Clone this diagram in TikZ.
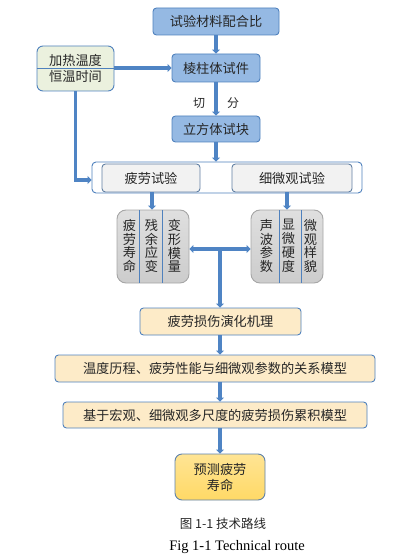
\documentclass[tikz,border=0pt]{standalone}
\usepackage{fontspec}
\setmainfont{Liberation Serif}
\newfontfamily\cjk{Noto Sans CJK SC}
\usetikzlibrary{arrows.meta,positioning}
\definecolor{bdr}{HTML}{4F81BD}
\definecolor{arr}{HTML}{4F84C4}
\definecolor{bluefill}{HTML}{95B9E3}
\definecolor{greenfill}{HTML}{EBF1DE}
\definecolor{lgray}{HTML}{F2F2F2}
\definecolor{yfill}{HTML}{FDEBC8}
\definecolor{gold}{HTML}{FFD966}
\tikzset{
  box/.style={draw=bdr, line width=0.9pt, rounded corners=3.5pt, inner sep=0pt,
    font=\cjk\fontsize{13.2}{16}\selectfont, text=black!85},
  bluebox/.style={box, fill=bluefill},
  greenbox/.style={box, fill=greenfill, rounded corners=6pt},
  graybox/.style={box, draw=bdr!60!gray, fill=lgray},
  ybox/.style={box, fill=yfill},
  groupbox/.style={draw=gray!70, line width=0.9pt, rounded corners=9pt, top color=gray!25, bottom color=gray!40, inner sep=0pt},
  coltext/.style={font=\cjk\fontsize{13.2}{13.8}\selectfont, align=center, text=black!85, inner sep=0pt},
  arrowline/.style={draw=arr, line width=3.2pt, -{Triangle[length=4pt,width=8pt]}},
  dblline/.style={draw=arr, line width=3.2pt, {Triangle[length=4pt,width=8pt]}-{Triangle[length=4pt,width=8pt]}},
  lbl/.style={font=\cjk\fontsize{12}{14}\selectfont, text=black!85}
}
\begin{document}
\begin{tikzpicture}[x=1pt,y=-1pt]
\useasboundingbox (0,0) rectangle (407,556);
% top chain
\node[bluebox, minimum width=126pt, minimum height=27pt] (mat) at (216,21.5) {试验材料配合比};
\node[greenbox, minimum width=77pt, minimum height=45pt, align=center] (heat) at (75.5,68.5) {加热温度\\[0pt]恒温时间};
\draw[draw=bdr, line width=0.9pt] (heat.west) -- (heat.east);
\node[bluebox, minimum width=88pt, minimum height=28pt] (pris) at (216,68) {棱柱体试件};
\node[bluebox, minimum width=88pt, minimum height=26pt] (cube) at (216,129) {立方体试块};
\node[lbl] (cut1) at (199,103) {切};
\node[lbl] (cut2) at (233,103) {分};
% container
\node[draw=bdr, line width=0.9pt, rounded corners=4pt, fill=white, minimum width=270pt, minimum height=31pt, inner sep=0pt] (outer) at (227,177.5) {};
\node[graybox, minimum width=98pt, minimum height=28pt] (fat) at (151,178) {疲劳试验};
\node[graybox, minimum width=120pt, minimum height=28pt] (mic) at (292,178) {细微观试验};
% group boxes
\node[groupbox, minimum width=72pt, minimum height=73pt] (lg) at (153,246.5) {};
\draw[draw=bdr, line width=0.8pt] (139,210) -- (139,283);
\draw[draw=bdr, line width=0.8pt] (162,210) -- (162,283);
\node[coltext] (l1) at (129.5,246) {疲\\劳\\寿\\命};
\node[coltext] (l2) at (151.5,246) {残\\余\\应\\变};
\node[coltext] (l3) at (174.5,246) {变\\形\\模\\量};
\node[groupbox, minimum width=72pt, minimum height=73pt] (rg) at (287,246.5) {};
\draw[draw=bdr, line width=0.8pt] (279,210) -- (279,283);
\draw[draw=bdr, line width=0.8pt] (301,210) -- (301,283);
\node[coltext] (r1) at (266.5,246) {声\\波\\参\\数};
\node[coltext] (r2) at (288.5,246) {显\\微\\硬\\度};
\node[coltext] (r3) at (310.5,246) {微\\观\\样\\貌};
% lower chain
\node[ybox, minimum width=161pt, minimum height=27pt] (mech) at (220.5,321.5) {疲劳损伤演化机理};
\node[ybox, minimum width=320pt, minimum height=27pt] (rel) at (215,368.5) {温度历程、疲劳性能与细微观参数的关系模型};
\node[ybox, minimum width=304pt, minimum height=26pt] (acc) at (215,415) {基于宏观、细微观多尺度的疲劳损伤累积模型};
\node[box, draw=bdr!70!gray, top color=gold!70, bottom color=gold, rounded corners=7pt, minimum width=90pt, minimum height=46pt, align=center] (pred) at (220,477) {预测疲劳\\寿命};
% captions
\node[font=\cjk\fontsize{12.5}{14}\selectfont, text=black!85] (cap1) at (223,524) {图 1-1 技术路线};
\node[font=\fontsize{14.5}{16}\selectfont, text=black] (cap2) at (237,547) {Fig 1-1 Technical route};
% connectors
\coordinate (hb) at (75.5,180);
\coordinate (jn) at (220,249);
\draw[arrowline] (mat.south) -- (pris.north);
\draw[arrowline] (heat.east |- pris.west) -- (pris.west);
\draw[arrowline] (pris.south) -- (cube.north);
\draw[arrowline] (cube.south) -- (outer.north -| cube.south);
\draw[arrowline] (heat.south) -- (hb) -- (outer.west |- hb);
\draw[arrowline] ([xshift=1pt]fat.south) -- ([xshift=1pt]fat.south |- lg.north);
\draw[arrowline] ([xshift=-5pt]mic.south) -- ([xshift=-5pt]mic.south |- rg.north);
\draw[dblline] (lg.east |- jn) -- (rg.west |- jn);
\draw[arrowline] (jn) -- (jn |- mech.north);
\draw[arrowline] (mech.south -| jn) -- (rel.north -| jn);
\draw[arrowline] (rel.south -| jn) -- (acc.north -| jn);
\draw[arrowline] (acc.south -| jn) -- (pred.north -| jn);
\end{tikzpicture}
\end{document}
